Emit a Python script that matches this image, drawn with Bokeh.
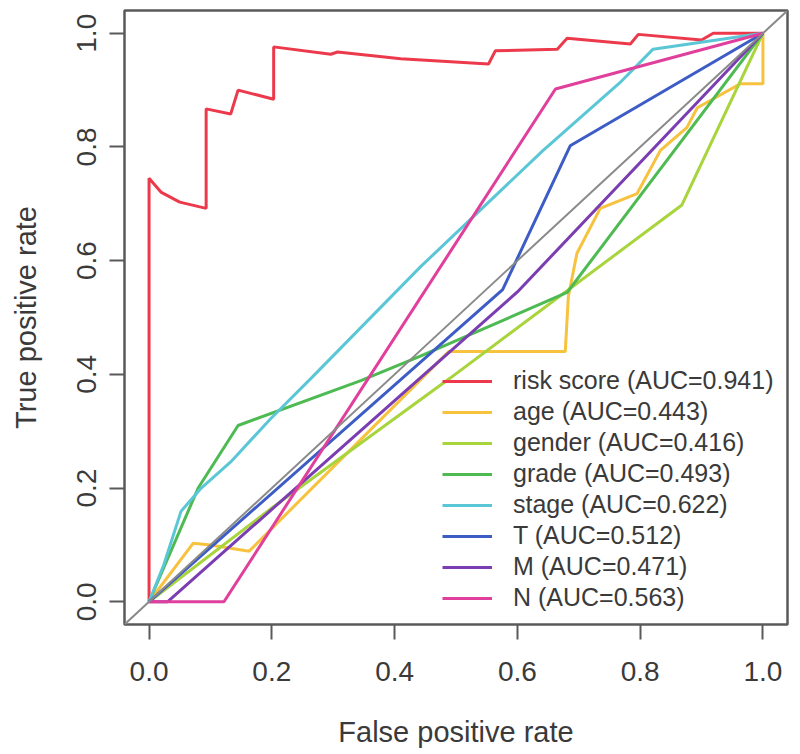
from bokeh.plotting import figure
from bokeh.models import Range1d, FixedTicker, NumeralTickFormatter, Slope
from bokeh.embed import file_html
from bokeh.resources import INLINE

# ROC curves (FPR, TPR)
risk_fpr = [0, 0, 0.02, 0.05, 0.093, 0.093, 0.133, 0.145, 0.203, 0.203, 0.296, 0.307,
            0.41, 0.553, 0.564, 0.665, 0.681, 0.784, 0.797, 0.9, 0.919, 1.0]
risk_tpr = [0, 0.745, 0.72, 0.703, 0.692, 0.867, 0.858, 0.9, 0.884, 0.976, 0.963, 0.967,
            0.955, 0.946, 0.969, 0.972, 0.991, 0.981, 0.998, 0.988, 1.0, 1.0]

age_fpr = [0, 0.072, 0.1, 0.163, 0.488, 0.678, 0.683, 0.697, 0.735, 0.795, 0.833, 0.876,
           0.893, 0.963, 1.0, 1.0]
age_tpr = [0, 0.103, 0.1, 0.089, 0.44, 0.44, 0.537, 0.613, 0.692, 0.718, 0.794, 0.834,
           0.869, 0.911, 0.911, 1.0]

gender_fpr = [0, 0.2, 0.49, 0.868, 1.0]
gender_tpr = [0, 0.165, 0.393, 0.698, 1.0]

grade_fpr = [0, 0.052, 0.08, 0.145, 0.345, 0.442, 0.681, 1.0]
grade_tpr = [0, 0.13, 0.2, 0.31, 0.389, 0.432, 0.544, 1.0]

stage_fpr = [0, 0.024, 0.052, 0.085, 0.133, 0.198, 0.263, 0.442, 0.642, 0.767, 0.821, 1.0]
stage_tpr = [0, 0.065, 0.159, 0.2, 0.246, 0.322, 0.392, 0.589, 0.794, 0.913, 0.972, 1.0]

t_fpr = [0, 0.576, 0.686, 1.0]
t_tpr = [0, 0.549, 0.802, 1.0]

m_fpr = [0, 0.03, 0.6, 1.0]
m_tpr = [0, 0.0, 0.545, 1.0]

n_fpr = [0, 0.122, 0.662, 1.0]
n_tpr = [0, 0.0, 0.902, 1.0]

labels = ["risk score (AUC=0.941)", "age (AUC=0.443)", "gender (AUC=0.416)",
          "grade (AUC=0.493)", "stage (AUC=0.622)", "T (AUC=0.512)",
          "M (AUC=0.471)", "N (AUC=0.563)"]
colors = ["#EC3A4C", "#F7C23E", "#A8D43C", "#4DBA52", "#5BC7D6", "#3D5CC6",
          "#7A3DB2", "#E0409C"]
xs = [risk_fpr, age_fpr, gender_fpr, grade_fpr, stage_fpr, t_fpr, m_fpr, n_fpr]
ys = [risk_tpr, age_tpr, gender_tpr, grade_tpr, stage_tpr, t_tpr, m_tpr, n_tpr]

ticks = [0.0, 0.2, 0.4, 0.6, 0.8, 1.0]

FONT = "Liberation Sans"
TXT = "#3a3a3a"
LINE = "#5a5a5a"

p = figure(width=792, height=750, output_backend="svg", toolbar_location=None,
           x_range=Range1d(-0.04, 1.04), y_range=Range1d(-0.04, 1.04),
           min_border_left=124, min_border_right=5, min_border_top=10,
           min_border_bottom=124,
           x_axis_label="False positive rate", y_axis_label="True positive rate")

p.xgrid.visible = False
p.ygrid.visible = False
p.outline_line_color = LINE
p.outline_line_width = 2.5
p.background_fill_color = "white"
p.border_fill_color = "white"

for ax in (p.xaxis[0], p.yaxis[0]):
    ax.ticker = FixedTicker(ticks=ticks)
    ax.formatter = NumeralTickFormatter(format="0.0")
    ax.axis_line_color = None
    ax.major_tick_in = 0
    ax.major_tick_out = 15
    ax.major_tick_line_color = LINE
    ax.major_tick_line_width = 2
    ax.minor_tick_line_color = None
    ax.major_label_text_font = FONT
    ax.major_label_text_font_size = "28px"
    ax.major_label_text_color = TXT
    ax.axis_label_text_font = FONT
    ax.axis_label_text_font_size = "29px"
    ax.axis_label_text_font_style = "normal"
    ax.axis_label_text_color = TXT

p.xaxis.major_label_standoff = 22
p.xaxis.axis_label_standoff = 32
p.yaxis.major_label_orientation = "vertical"
p.yaxis.major_label_standoff = 13
p.yaxis.axis_label_standoff = 33

p.add_layout(Slope(gradient=1, y_intercept=0, line_color="#8a8a8a", line_width=2))

for lab, col, x, y in zip(labels, colors, xs, ys):
    p.line(x, y, line_color=col, line_width=3, legend_label=lab)

lg = p.legend[0]
lg.location = (318, 12)
lg.border_line_alpha = 0
lg.background_fill_alpha = 0
lg.padding = 0
lg.margin = 0
lg.spacing = 2
lg.glyph_width = 50
lg.glyph_height = 20
lg.label_standoff = 21
lg.label_height = 20
lg.label_text_font = FONT
lg.label_text_font_size = "25px"
lg.label_text_color = TXT

open("out.html", "w").write(file_html(p, INLINE))
